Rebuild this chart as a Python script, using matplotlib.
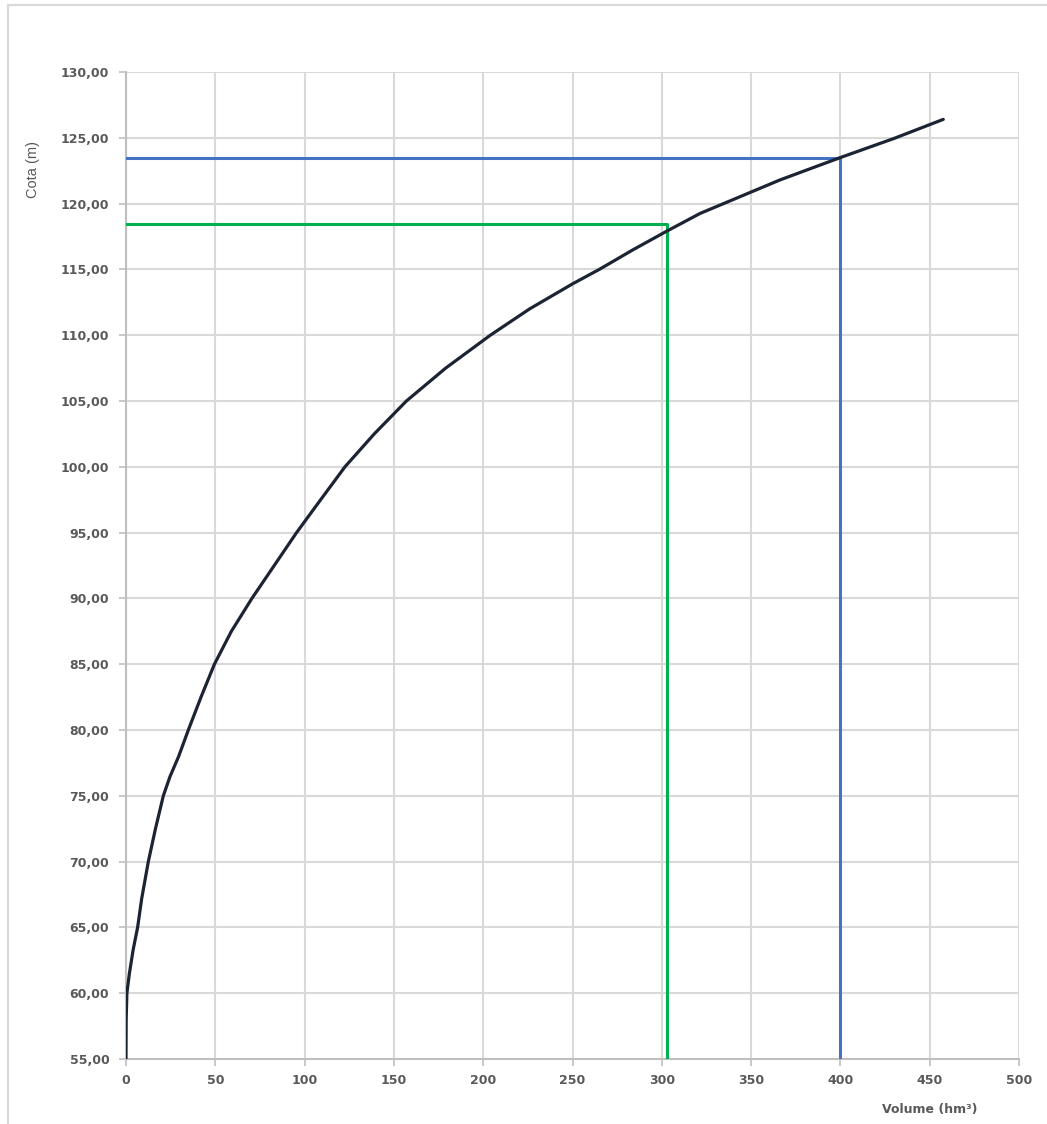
import matplotlib
matplotlib.use("Agg")
import matplotlib.pyplot as plt
from matplotlib.lines import Line2D
from matplotlib.ticker import FuncFormatter

# ---------------------------------------------- curva cota-volume
volume = [0, 0.1, 0.5, 1.9, 4.0, 6.5, 8.8, 12.5, 16.5, 20.9, 24.6, 29.5,
          34.9, 42.0, 49.5, 59.0, 70.5, 83.0, 95.5, 109.0, 122.6, 139.0,
          157.0, 179.0, 204.0, 226.0, 250.0, 265.0, 284.0, 302.7, 321.4,
          366.2, 400.0, 430.0, 457.6]
cota = [55.0, 58.0, 60.0, 61.5, 63.3, 65.0, 67.2, 70.0, 72.5, 75.0, 76.45,
        78.0, 80.0, 82.5, 85.0, 87.5, 90.0, 92.5, 95.0, 97.5, 100.0, 102.5,
        105.0, 107.5, 110.0, 112.0, 113.9, 115.0, 116.5, 117.9, 119.25,
        121.8, 123.5, 124.95, 126.4]

# ---------------------------------------------- linhas de referência
green_vol, green_cota = 302.7, 118.45
blue_vol, blue_cota = 400.0, 123.5

x_ticks = [0, 50, 100, 150, 200, 250, 300, 350, 400, 450, 500]
y_ticks = [55, 60, 65, 70, 75, 80, 85, 90, 95, 100, 105, 110, 115, 120,
           125, 130]

label_color = "#595959"
grid_color = "#d9d9d9"

fig = plt.figure(figsize=(10.47, 11.24), dpi=100)
ax = fig.add_axes([126 / 1047, 1 - 1059 / 1124,
                   (1019 - 126) / 1047, (1059 - 72) / 1124])

# moldura da figura (só topo e esquerda visíveis)
fig.add_artist(Line2D([8 / 1047, 1.0], [1 - 5 / 1124, 1 - 5 / 1124],
                      transform=fig.transFigure, color=grid_color, lw=1.6))
fig.add_artist(Line2D([8 / 1047, 8 / 1047], [0.0, 1 - 5 / 1124],
                      transform=fig.transFigure, color=grid_color, lw=1.6))

ax.plot(volume, cota, color="#1c2433", lw=2.3, solid_capstyle="round",
        solid_joinstyle="round", zorder=4)
ax.plot([0, green_vol, green_vol], [green_cota, green_cota, 55],
        color="#00b050", lw=2.2, zorder=3)
ax.plot([0, blue_vol, blue_vol], [blue_cota, blue_cota, 55],
        color="#4472c4", lw=2.2, zorder=3)

ax.set_xlim(0, 500)
ax.set_ylim(55, 130)
ax.set_xticks(x_ticks)
ax.set_yticks(y_ticks)
ax.yaxis.set_major_formatter(FuncFormatter(lambda v, p: f"{v:.2f}".replace(".", ",")))

ax.grid(True, color=grid_color, lw=1.5, zorder=0)
ax.set_axisbelow(True)
for side in ["top", "right"]:
    ax.spines[side].set_visible(False)
for side in ["left", "bottom"]:
    ax.spines[side].set_color("#bfbfbf")
    ax.spines[side].set_linewidth(1.5)

ax.tick_params(axis="both", length=5, width=1.2, color="#bfbfbf",
               labelcolor=label_color, labelsize=9)
ax.tick_params(axis="y", pad=7)
ax.tick_params(axis="x", pad=6)
for lab in ax.get_xticklabels() + ax.get_yticklabels():
    lab.set_fontweight("bold")

fig.text(33 / 1047, 1 - 170 / 1124, "Cota (m)", rotation=90, ha="center",
         va="center", color=label_color, fontsize=10.5,
         family="Liberation Sans")
fig.text(930 / 1047, 1 - 1110 / 1124, "Volume (hm³)", ha="center",
         va="center", color=label_color, fontsize=9, fontweight="bold")

fig.savefig("out.png", dpi=100, facecolor="white")
